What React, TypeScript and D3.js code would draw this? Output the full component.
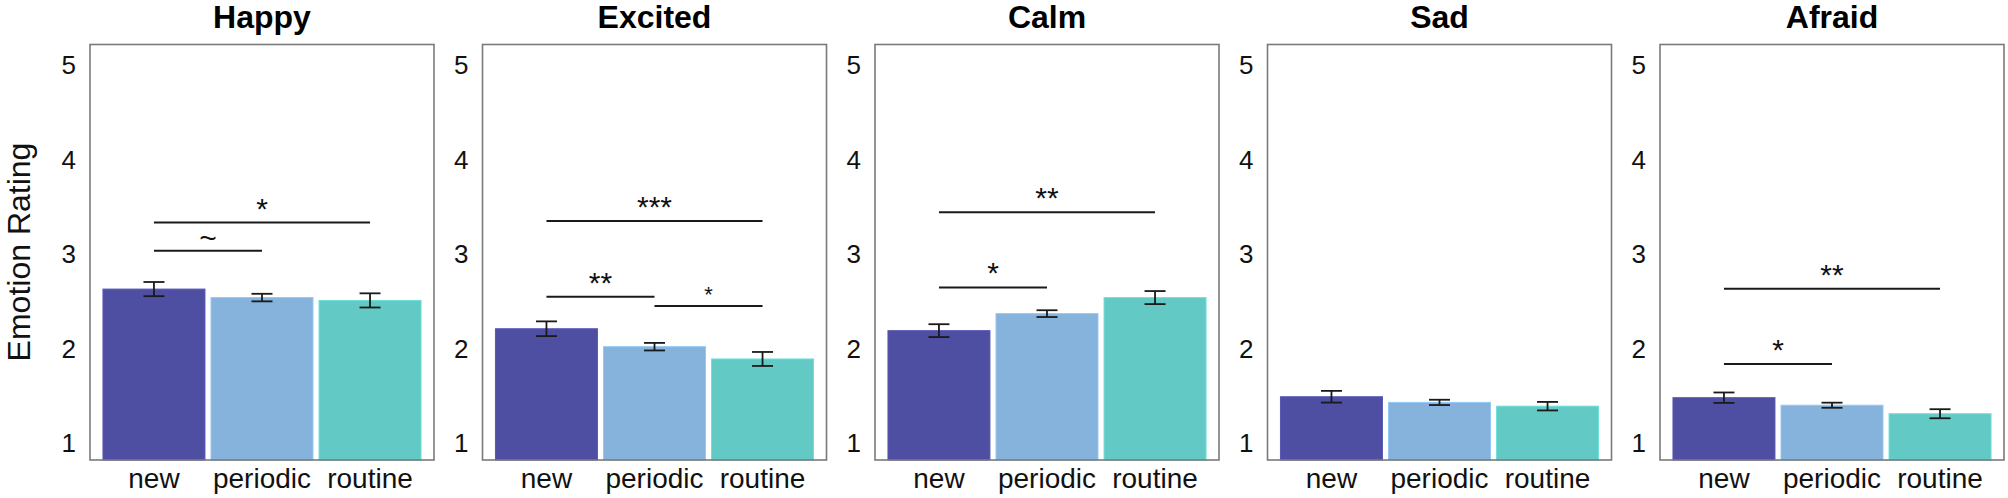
import React, { useEffect, useRef } from 'react';
import * as d3 from 'd3';

const emotions = ['Happy', 'Excited', 'Calm', 'Sad', 'Afraid'];
const conditions = ['new', 'periodic', 'routine'];
const colors = ['#4e4fa3', '#85b3db', '#63c9c4'];

// mean rating per emotion, in condition order
const means = [
  [2.63, 2.54, 2.51],
  [2.21, 2.02, 1.89],
  [2.19, 2.37, 2.54],
  [1.49, 1.43, 1.39],
  [1.48, 1.40, 1.31],
];
// standard error (half of the error bar)
const errors = [
  [0.075, 0.04, 0.075],
  [0.078, 0.04, 0.074],
  [0.068, 0.036, 0.069],
  [0.062, 0.028, 0.045],
  [0.055, 0.027, 0.048],
];

// significance brackets: [emotion index, from, to, level, label, small]
const brackets: [number, number, number, number, string, boolean][] = [
  [0, 0, 2, 3.335, '*', false],
  [0, 0, 1, 3.035, '~', false],
  [1, 0, 2, 3.35, '***', false],
  [1, 0, 1, 2.548, '**', false],
  [1, 1, 2, 2.45, '*', true],
  [2, 0, 2, 3.444, '**', false],
  [2, 0, 1, 2.648, '*', false],
  [4, 0, 2, 2.633, '**', false],
  [4, 0, 1, 1.836, '*', false],
];

const yTicks = [1, 2, 3, 4, 5];
const yLabel = 'Emotion Rating';

const W = 2008;
const H = 498;
const FONT = '"Liberation Sans", Arial, Helvetica, sans-serif';

export default function App() {
  const svgRef = useRef<SVGSVGElement>(null);

  useEffect(() => {
    document.body.style.margin = '0';
    if (!svgRef.current) return;
    const svg = d3.select(svgRef.current);
    svg.selectAll('*').remove();

    const panelW = 344;
    const top = 44.5;
    const bottom = 460;

    const panelX = d3.scaleLinear().domain([0, emotions.length - 1]).range([90, 1660]);
    const y = d3.scaleLinear().domain([0.82, 5.22]).range([bottom, top]);
    const x = d3.scaleBand<string>()
      .domain(conditions)
      .range([0, panelW])
      .paddingInner(0.056)
      .paddingOuter(0.12);

    svg.append('text')
      .attr('transform', `translate(30,252) rotate(-90)`)
      .attr('text-anchor', 'middle')
      .attr('font-family', FONT)
      .attr('font-size', 32)
      .attr('fill', '#111')
      .text(yLabel);

    emotions.forEach((emo, i) => {
      const g = svg.append('g').attr('transform', `translate(${panelX(i)},0)`);

      g.append('text')
        .attr('x', panelW / 2)
        .attr('y', 28)
        .attr('text-anchor', 'middle')
        .attr('font-family', FONT)
        .attr('font-weight', 'bold')
        .attr('font-size', 32)
        .attr('fill', '#000')
        .text(emo);

      // y tick labels (no tick marks)
      g.selectAll('.ytick')
        .data(yTicks)
        .enter().append('text')
        .attr('x', -14)
        .attr('y', d => y(d))
        .attr('text-anchor', 'end')
        .attr('dominant-baseline', 'central')
        .attr('font-family', FONT)
        .attr('font-size', 26)
        .attr('fill', '#111')
        .text(d => d);

      // bars
      g.selectAll('.bar')
        .data(means[i])
        .enter().append('rect')
        .attr('x', (_, j) => x(conditions[j])!)
        .attr('width', x.bandwidth())
        .attr('y', d => y(d))
        .attr('height', d => y(0.82) - y(d))
        .attr('fill', (_, j) => colors[j])
        .attr('stroke', (_, j) => d3.color(colors[j])!.brighter(0.3).toString())
        .attr('stroke-width', 1);

      // error bars
      const cap = 10.5;
      means[i].forEach((m, j) => {
        const cx = x(conditions[j])! + x.bandwidth() / 2;
        const lo = y(m - errors[i][j]);
        const hi = y(m + errors[i][j]);
        const eg = g.append('g').attr('stroke', '#1a1a1a').attr('stroke-width', 1.8);
        eg.append('line').attr('x1', cx).attr('x2', cx).attr('y1', lo).attr('y2', hi);
        eg.append('line').attr('x1', cx - cap).attr('x2', cx + cap).attr('y1', lo).attr('y2', lo);
        eg.append('line').attr('x1', cx - cap).attr('x2', cx + cap).attr('y1', hi).attr('y2', hi);
      });

      // significance brackets
      brackets.filter(b => b[0] === i).forEach(([, a, b, lvl, label, small]) => {
        const x1 = x(conditions[a])! + x.bandwidth() / 2;
        const x2 = x(conditions[b])! + x.bandwidth() / 2;
        g.append('line')
          .attr('x1', x1).attr('x2', x2)
          .attr('y1', y(lvl)).attr('y2', y(lvl))
          .attr('stroke', '#1a1a1a')
          .attr('stroke-width', 2);
        g.append('text')
          .attr('x', (x1 + x2) / 2)
          .attr('y', y(lvl) - (label === '~' ? 3 : 4))
          .attr('text-anchor', 'middle')
          .attr('font-family', FONT)
          .attr('font-size', small ? 22 : 30)
          .attr('fill', '#111')
          .text(label);
      });

      // frame
      g.append('rect')
        .attr('x', 0)
        .attr('y', top)
        .attr('width', panelW)
        .attr('height', bottom - top)
        .attr('fill', 'none')
        .attr('stroke', '#7a7a7a')
        .attr('stroke-width', 1.6);

      // x labels
      g.selectAll('.xlab')
        .data(conditions)
        .enter().append('text')
        .attr('x', d => x(d)! + x.bandwidth() / 2)
        .attr('y', 488)
        .attr('text-anchor', 'middle')
        .attr('font-family', FONT)
        .attr('font-size', 28)
        .attr('fill', '#111')
        .text(d => d);
    });
  }, []);

  return <svg ref={svgRef} width={W} height={H} style={{ display: 'block', background: '#fff' }} />;
}
